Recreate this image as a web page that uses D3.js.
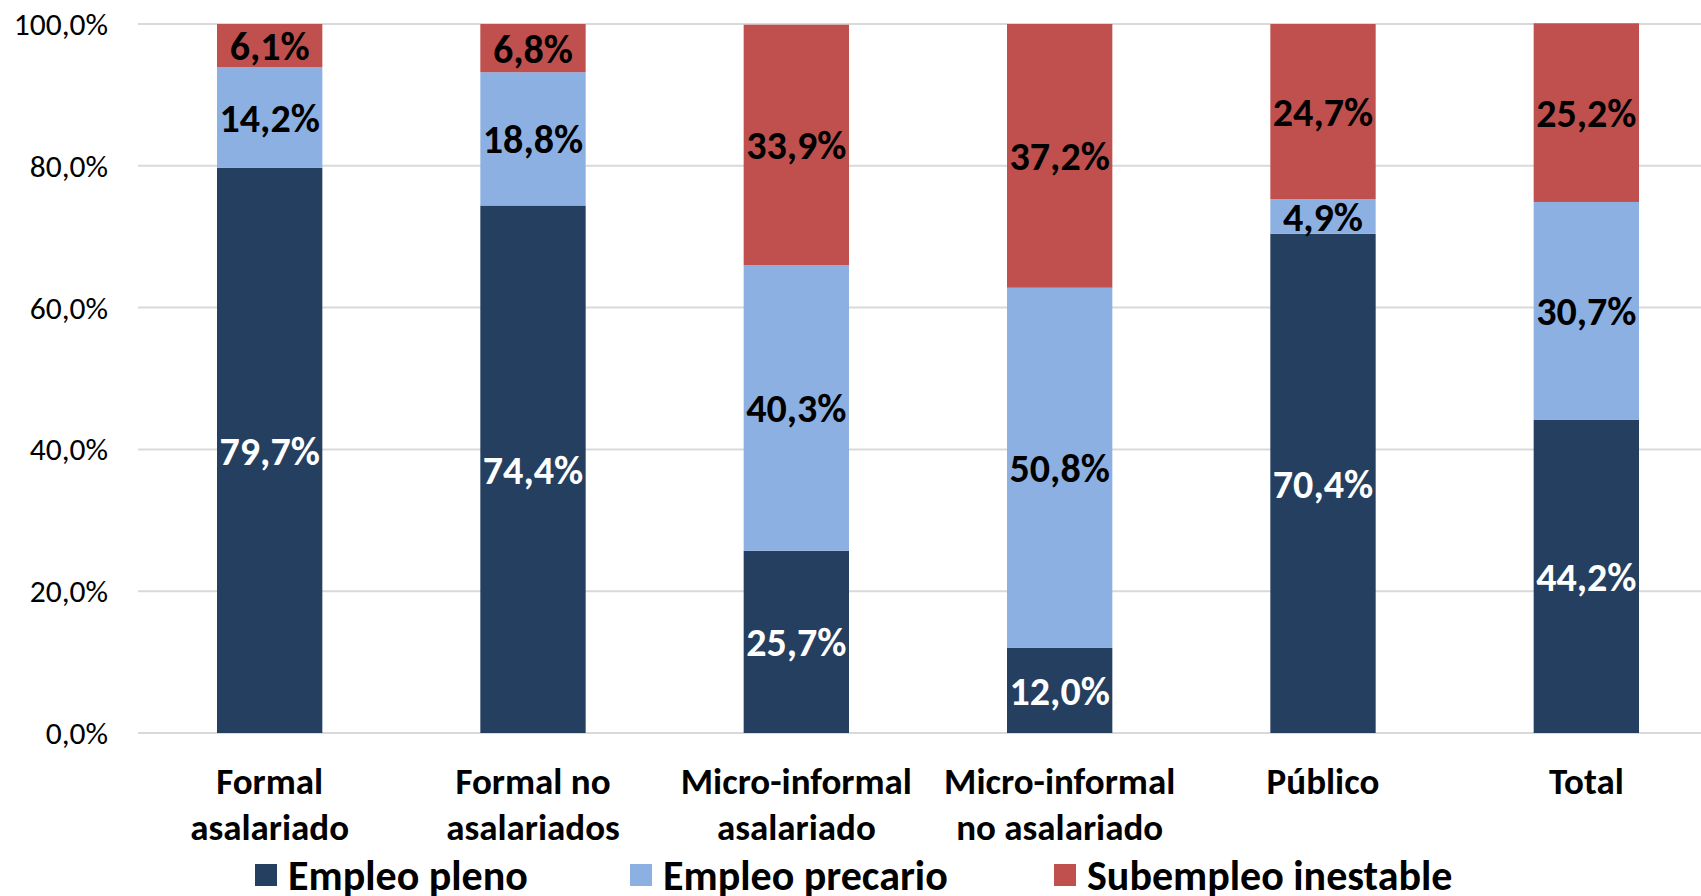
<!DOCTYPE html>
<html>
<head>
<meta charset="utf-8">
<script src="https://cdn.jsdelivr.net/npm/d3@7"></script>
<style>
  body { margin: 0; background: #fff; }
  svg { display: block; font-family: Carlito, Lato, "Liberation Sans", sans-serif; }
</style>
</head>
<body>
<div id="chart"></div>
<script>
const width = 1701;
const height = 896;

// datos
const categorias = [
  ['Formal', 'asalariado'],
  ['Formal no', 'asalariados'],
  ['Micro-informal', 'asalariado'],
  ['Micro-informal', 'no asalariado'],
  ['Público'],
  ['Total']
];
const series = ['Empleo pleno', 'Empleo precario', 'Subempleo inestable'];
const empleoPleno = [79.7, 74.4, 25.7, 12.0, 70.4, 44.2];
const empleoPrecario = [14.2, 18.8, 40.3, 50.8, 4.9, 30.7];
const subempleoInestable = [6.1, 6.8, 33.9, 37.2, 24.7, 25.2];
const ticks = [0, 20, 40, 60, 80, 100];

const colores = ['#243F60', '#8DB0E2', '#C0504D'];
const colorTexto = ['#ffffff', '#000000', '#000000'];

const filas = categorias.map((c, i) => ({
  idx: i,
  'Empleo pleno': empleoPleno[i],
  'Empleo precario': empleoPrecario[i],
  'Subempleo inestable': subempleoInestable[i]
}));

const svg = d3.select('#chart').append('svg').attr('width', width).attr('height', height);

const x = d3.scaleBand().domain(d3.range(categorias.length)).range([138, 1718]).paddingInner(0.6).paddingOuter(0.3);
const y = d3.scaleLinear().domain([0, 100]).range([733, 24]);

// grilla
svg.append('g')
  .selectAll('line')
  .data(ticks)
  .enter().append('line')
  .attr('x1', 138)
  .attr('x2', width)
  .attr('y1', d => y(d))
  .attr('y2', d => y(d))
  .attr('stroke', '#D9D9D9')
  .attr('stroke-width', 2);

// eje y
const fmt = d => d.toFixed(1).replace('.', ',') + '%';
svg.append('g')
  .selectAll('text')
  .data(ticks)
  .enter().append('text')
  .attr('x', 108)
  .attr('y', d => y(d))
  .attr('dy', '0.35em')
  .attr('text-anchor', 'end')
  .style('font-size', '31.5px')
  .attr('fill', '#000')
  .text(fmt);

// barras apiladas
const stack = d3.stack().keys(series);
const capas = stack(filas);

const grupos = svg.append('g')
  .selectAll('g')
  .data(capas)
  .enter().append('g')
  .attr('fill', (d, i) => colores[i]);

grupos.selectAll('rect')
  .data(d => d)
  .enter().append('rect')
  .attr('x', d => x(d.data.idx))
  .attr('width', x.bandwidth())
  .attr('y', d => y(d[1]))
  .attr('height', d => y(d[0]) - y(d[1]));

// etiquetas de valor
capas.forEach((capa, s) => {
  svg.append('g')
    .selectAll('text')
    .data(capa)
    .enter().append('text')
    .attr('x', d => x(d.data.idx) + x.bandwidth() / 2)
    .attr('y', d => (y(d[0]) + y(d[1])) / 2)
    .attr('dy', '0.36em')
    .attr('text-anchor', 'middle')
    .style('font-size', '40px')
    .attr('font-weight', 'bold')
    .attr('fill', colorTexto[s])
    .text(d => fmt(d[1] - d[0]));
});

// etiquetas de categoria
svg.append('g')
  .selectAll('text')
  .data(categorias)
  .enter().append('text')
  .attr('x', (d, i) => x(i) + x.bandwidth() / 2)
  .attr('y', 794)
  .attr('text-anchor', 'middle')
  .style('font-size', '37px')
  .attr('font-weight', 'bold')
  .attr('fill', '#000')
  .selectAll('tspan')
  .data(d => d)
  .enter().append('tspan')
  .attr('x', function() { return this.parentNode.getAttribute('x'); })
  .attr('dy', (d, i) => i === 0 ? 0 : 46)
  .text(d => d);

// leyenda
const legX = [255, 630, 1054];
const leyenda = svg.append('g')
  .selectAll('g')
  .data(series)
  .enter().append('g')
  .attr('transform', (d, i) => 'translate(' + legX[i] + ',864)');

leyenda.append('rect')
  .attr('width', 22)
  .attr('height', 22)
  .attr('fill', (d, i) => colores[i]);

leyenda.append('text')
  .attr('x', 33)
  .attr('y', 11)
  .attr('dy', '0.36em')
  .style('font-size', '42px')
  .attr('font-weight', 'bold')
  .attr('fill', '#000')
  .text(d => d);
</script>
</body>
</html>
